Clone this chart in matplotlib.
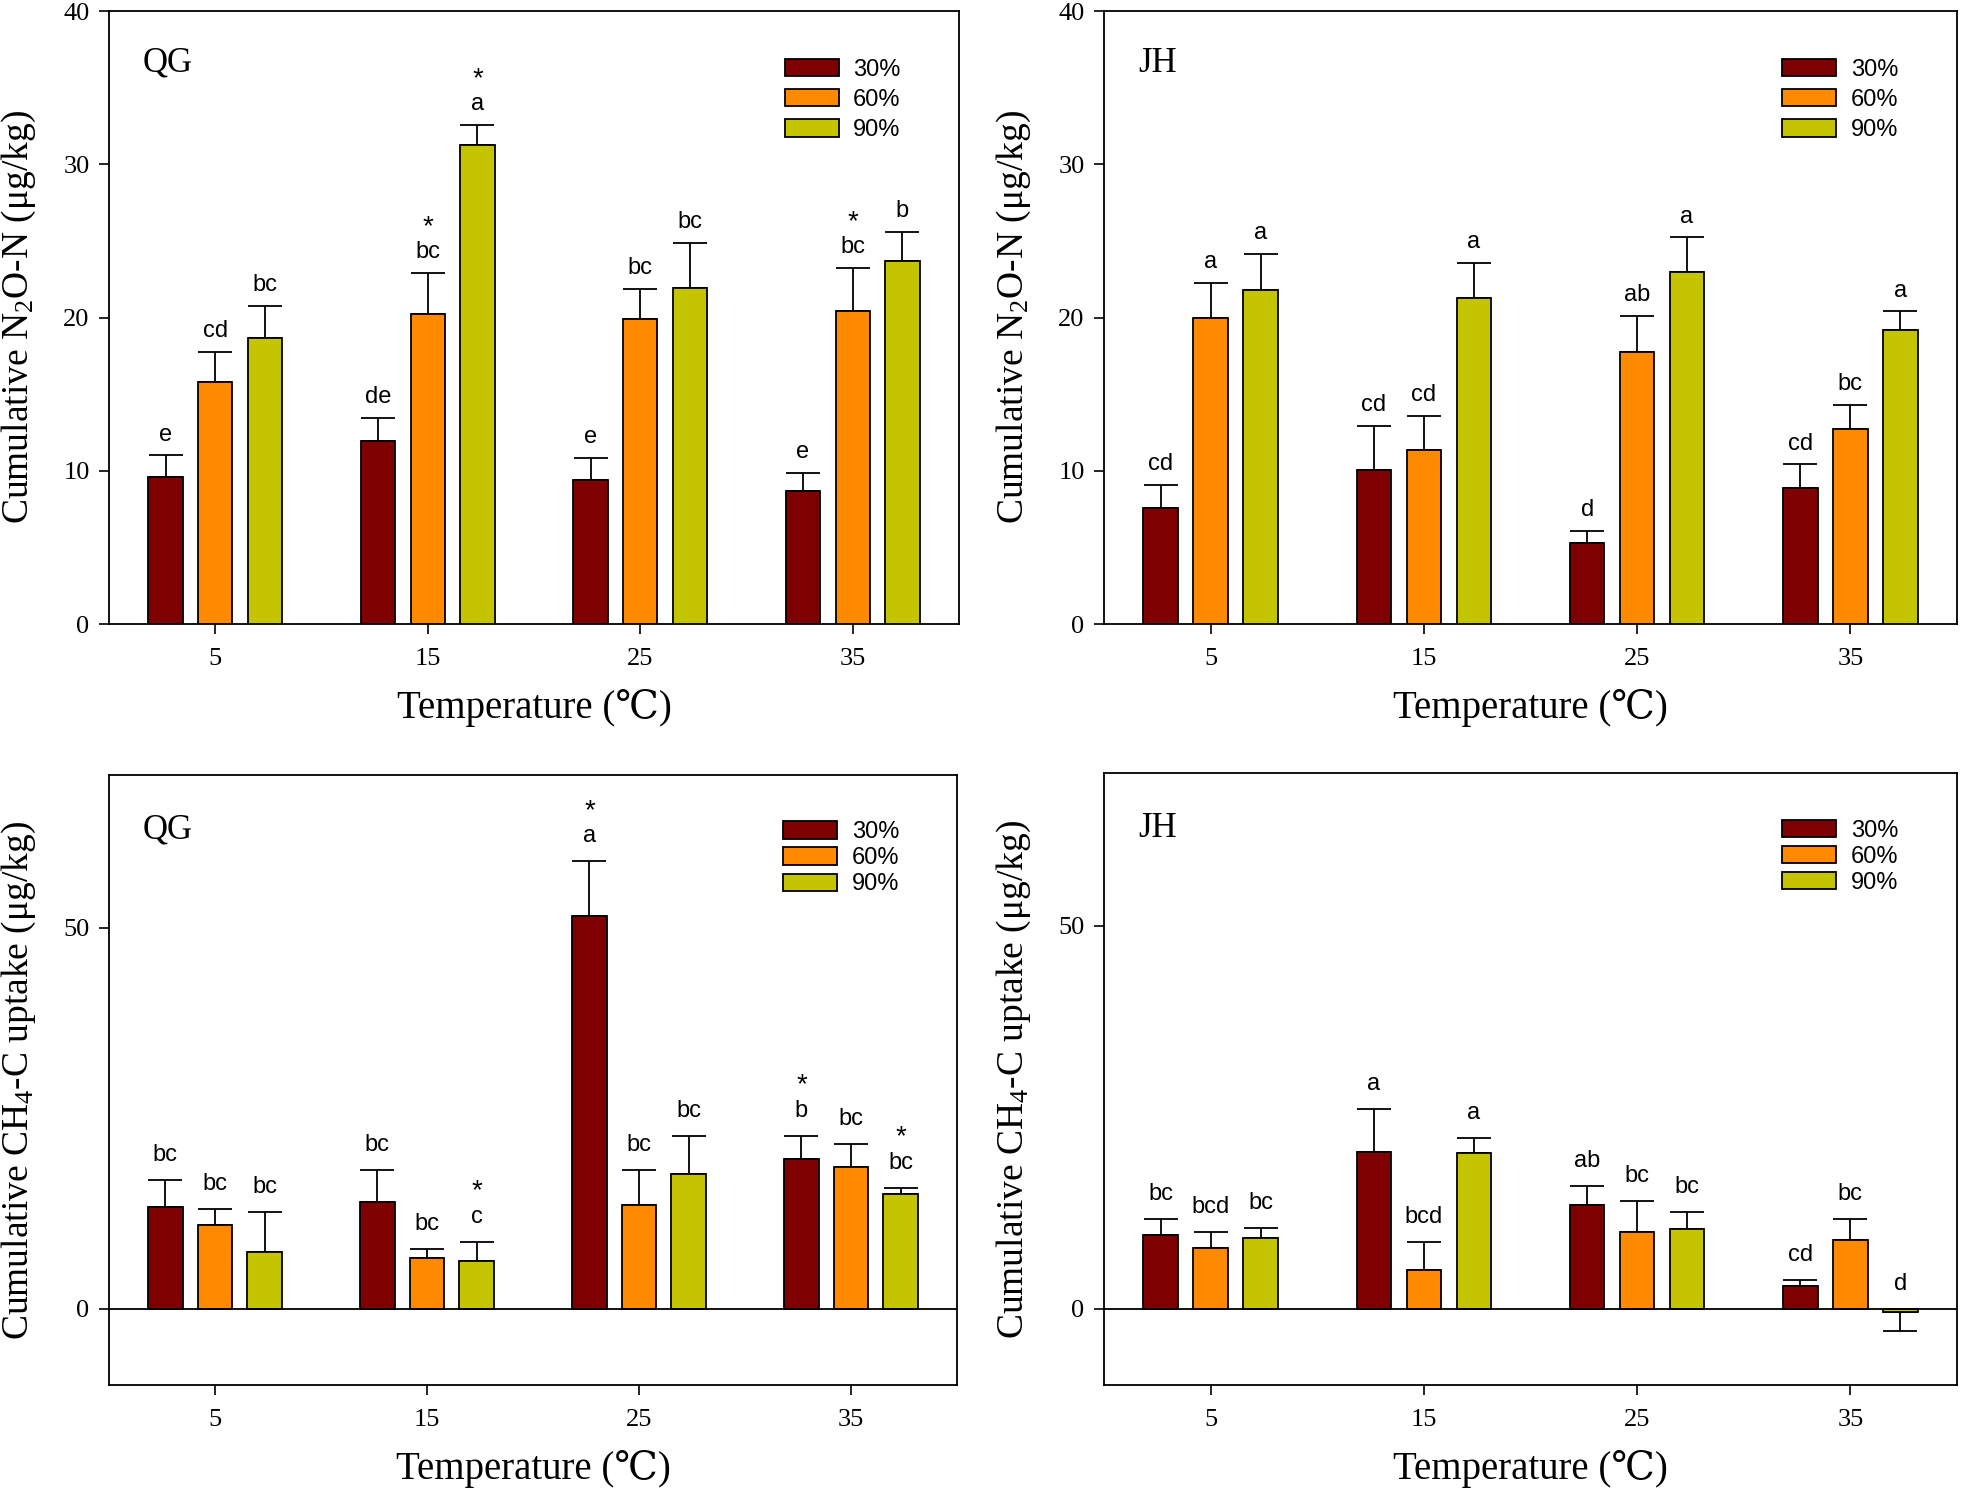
import matplotlib
matplotlib.use('Agg')
import matplotlib.pyplot as plt
import numpy as np

plt.rcParams['font.family'] = ['Liberation Serif', 'DejaVu Serif']
plt.rcParams['mathtext.fontset'] = 'custom'
plt.rcParams['mathtext.rm'] = 'Liberation Serif'
plt.rcParams['mathtext.it'] = 'Liberation Serif:italic'

# data
temps = [5, 15, 25, 35]
moisture = ['30%', '60%', '90%']
colors = ['#7f0000', '#ff8a00', '#c4c400']

# rows = moisture (30, 60, 90 %), cols = temperature
qg_n2o = [[9.6, 11.94, 9.42, 8.68],
          [15.8, 20.2, 19.9, 20.43],
          [18.65, 31.26, 21.9, 23.66]]
qg_n2o_err = [[1.4, 1.5, 1.4, 1.2],
              [1.95, 2.7, 1.95, 2.8],
              [2.1, 1.3, 2.95, 1.9]]
qg_n2o_let = [['e', 'de', 'e', 'e'],
              ['cd', 'bc', 'bc', 'bc'],
              ['bc', 'a', 'bc', 'b']]
qg_n2o_star = [[0, 0, 0, 0],
               [0, 1, 0, 1],
               [0, 1, 0, 0]]

jh_n2o = [[7.54, 10.03, 5.26, 8.86],
          [19.94, 11.35, 17.75, 12.74],
          [21.78, 21.26, 22.95, 19.17]]
jh_n2o_err = [[1.56, 2.9, 0.83, 1.55],
              [2.34, 2.22, 2.34, 1.57],
              [2.37, 2.28, 2.28, 1.23]]
jh_n2o_let = [['cd', 'cd', 'd', 'cd'],
              ['a', 'cd', 'ab', 'bc'],
              ['a', 'a', 'a', 'a']]
jh_n2o_star = [[0, 0, 0, 0],
               [0, 0, 0, 0],
               [0, 0, 0, 0]]

qg_ch4 = [[13.3, 14.06, 51.56, 19.6],
          [11.0, 6.6, 13.56, 18.56],
          [7.44, 6.2, 17.7, 15.1]]
qg_ch4_err = [[3.6, 4.2, 7.1, 3.1],
              [2.1, 1.3, 4.7, 3.1],
              [5.3, 2.6, 5.0, 0.8]]
qg_ch4_let = [['bc', 'bc', 'a', 'b'],
              ['bc', 'bc', 'bc', 'bc'],
              ['bc', 'c', 'bc', 'bc']]
qg_ch4_star = [[0, 0, 1, 1],
               [0, 0, 0, 0],
               [0, 1, 0, 1]]

jh_ch4 = [[9.64, 20.46, 13.56, 2.98],
          [7.96, 4.98, 9.95, 8.9],
          [9.2, 20.34, 10.45, -0.5]]
jh_ch4_err = [[2.0, 5.6, 2.5, 0.75],
              [2.0, 3.66, 4.1, 2.85],
              [1.37, 2.0, 2.15, 2.4]]
jh_ch4_let = [['bc', 'a', 'ab', 'cd'],
              ['bcd', 'bcd', 'bc', 'bc'],
              ['bc', 'a', 'bc', 'd']]
jh_ch4_star = [[0, 0, 0, 0],
               [0, 0, 0, 0],
               [0, 0, 0, 0]]

n2o_label = 'Cumulative N$_2$O-N (μg/kg)'
ch4_label = 'Cumulative CH$_4$-C uptake (μg/kg)'
x_label = 'Temperature (℃)'

W, H = 1961, 1488
fig = plt.figure(figsize=(W / 100, H / 100), dpi=100)


def px_axes(left, top, right, bottom):
    return fig.add_axes([left / W, 1 - bottom / H, (right - left) / W, (bottom - top) / H])


def draw_panel(ax, means, errs, letters, stars, ylim, yticks, ylabel, site,
               let_off, site_y, legend_top, legend_sp, zero_line=False):
    offsets = [-2.34, 0, 2.34]
    x = np.array(temps, dtype=float)
    handles = []
    for i in range(3):
        m = np.array(means[i])
        e = np.array(errs[i])
        b = ax.bar(x + offsets[i], m, width=1.62, color=colors[i], edgecolor='black',
                   linewidth=1.3, zorder=3, label=moisture[i])
        handles.append(b)
        lower = np.where(m < 0, e, 0)
        upper = np.where(m < 0, 0, e)
        ax.errorbar(x + offsets[i], m, yerr=[lower, upper], fmt='none', ecolor='black',
                    elinewidth=1.3, capsize=12, capthick=1.3, zorder=2)
        for j in range(4):
            top = max(m[j] + upper[j], 0)
            ax.annotate(letters[i][j], (x[j] + offsets[i], top), xytext=(0, let_off),
                        textcoords='offset points', ha='center', va='center',
                        fontsize=17, family='Liberation Sans')
            if stars[i][j]:
                ax.annotate('*', (x[j] + offsets[i], top), xytext=(0, let_off + 18),
                            textcoords='offset points', ha='center', va='center',
                            fontsize=20, family='Liberation Sans')
    if zero_line:
        ax.axhline(0, color='black', lw=1.3, zorder=4)
    ax.set_xlim(0, 40)
    ax.set_ylim(*ylim)
    ax.set_xticks(temps)
    ax.set_yticks(yticks)
    ax.tick_params(axis='both', direction='out', length=7, width=1.2, labelsize=19, pad=7)
    ax.tick_params(axis='x', pad=10)
    for s in ax.spines.values():
        s.set_linewidth(1.3)
    ax.set_xlabel(x_label, fontsize=28, labelpad=14)
    ax.set_ylabel(ylabel, fontsize=27, labelpad=18)
    ax.text(0.04, site_y, site, transform=ax.transAxes, fontsize=25,
            ha='left', va='center')
    ax.legend(handles=handles, loc='upper left', bbox_to_anchor=(0.795, legend_top),
              frameon=False, prop={'family': 'Liberation Sans', 'size': 17},
              handlelength=2.3, handleheight=0.75, handletextpad=0.6,
              labelspacing=legend_sp, borderpad=0, borderaxespad=0)


ax1 = px_axes(109, 11, 959, 624)
draw_panel(ax1, qg_n2o, qg_n2o_err, qg_n2o_let, qg_n2o_star, (0, 40), [0, 10, 20, 30, 40],
           n2o_label, 'QG', 15, 0.915, 0.922, 0.35)
ax2 = px_axes(1104, 11, 1957, 624)
draw_panel(ax2, jh_n2o, jh_n2o_err, jh_n2o_let, jh_n2o_star, (0, 40), [0, 10, 20, 30, 40],
           n2o_label, 'JH', 15, 0.915, 0.922, 0.35)
ax3 = px_axes(109, 775, 957, 1385)
draw_panel(ax3, qg_ch4, qg_ch4_err, qg_ch4_let, qg_ch4_star, (-10, 70), [0, 50],
           ch4_label, 'QG', 18, 0.91, 0.924, 0.17, zero_line=True)
ax4 = px_axes(1104, 773, 1957, 1385)
draw_panel(ax4, jh_ch4, jh_ch4_err, jh_ch4_let, jh_ch4_star, (-10, 70), [0, 50],
           ch4_label, 'JH', 18, 0.91, 0.924, 0.17, zero_line=True)

fig.savefig('out.png', dpi=100)
